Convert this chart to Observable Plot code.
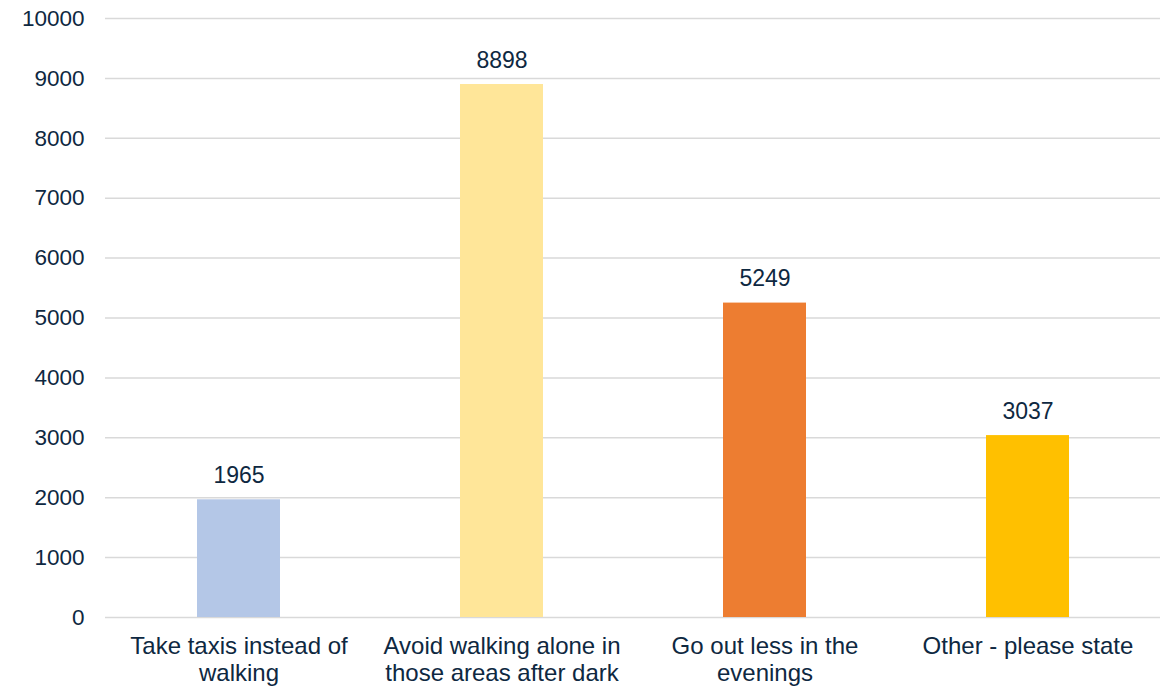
<!DOCTYPE html>
<html>
<head>
<meta charset="utf-8">
<script src="https://cdn.jsdelivr.net/npm/d3@7"></script>
<script src="https://cdn.jsdelivr.net/npm/@observablehq/plot@0.6"></script>
<style>
  html, body { margin: 0; padding: 0; background: #ffffff; }
  #chart svg { display: block; }
</style>
</head>
<body>
<div id="chart"></div>
<script>
const categories = [
  "Take taxis instead of walking",
  "Avoid walking alone in those areas after dark",
  "Go out less in the evenings",
  "Other - please state"
];
const categoryLabels = [
  "Take taxis instead of\nwalking",
  "Avoid walking alone in\nthose areas after dark",
  "Go out less in the\nevenings",
  "Other - please state"
];
const values = [1965, 8898, 5249, 3037];
const colors = ["#B4C7E7", "#FFE699", "#ED7D31", "#FFC000"];
const yTicks = [0, 1000, 2000, 3000, 4000, 5000, 6000, 7000, 8000, 9000, 10000];

const data = categories.map((c, i) => ({category: c, value: values[i], color: colors[i]}));
const labelOf = new Map(categories.map((c, i) => [c, categoryLabels[i]]));
const textColor = "#0E2841";

const chart = Plot.plot({
  width: 1173,
  height: 686,
  marginLeft: 105,
  marginRight: 13,
  marginTop: 18,
  marginBottom: 69,
  style: {fontFamily: "'Liberation Sans', Arial, sans-serif", fontSize: "22px", color: textColor, background: "#ffffff"},
  x: {domain: categories, paddingInner: 0.686, paddingOuter: 0.343, label: null},
  y: {domain: [0, 10000], label: null},
  marks: [
    Plot.ruleY(yTicks, {stroke: "#D9D9D9", strokeWidth: 1.5}),
    Plot.barY(data, {x: "category", y: "value", fill: "color"}),
    Plot.text(data, {x: "category", y: "value", text: d => String(d.value), dy: -17, lineAnchor: "bottom", fill: textColor, fontSize: 23}),
    Plot.axisY({ticks: yTicks, tickSize: 0, tickPadding: 21, tickFormat: d => String(d), fill: textColor, fontSize: 22.5}),
    Plot.axisX({tickSize: 0, tickPadding: 17, tickFormat: d => labelOf.get(d), lineHeight: 1.13, fill: textColor, fontSize: 24})
  ]
});
document.getElementById("chart").appendChild(chart);
</script>
</body>
</html>
